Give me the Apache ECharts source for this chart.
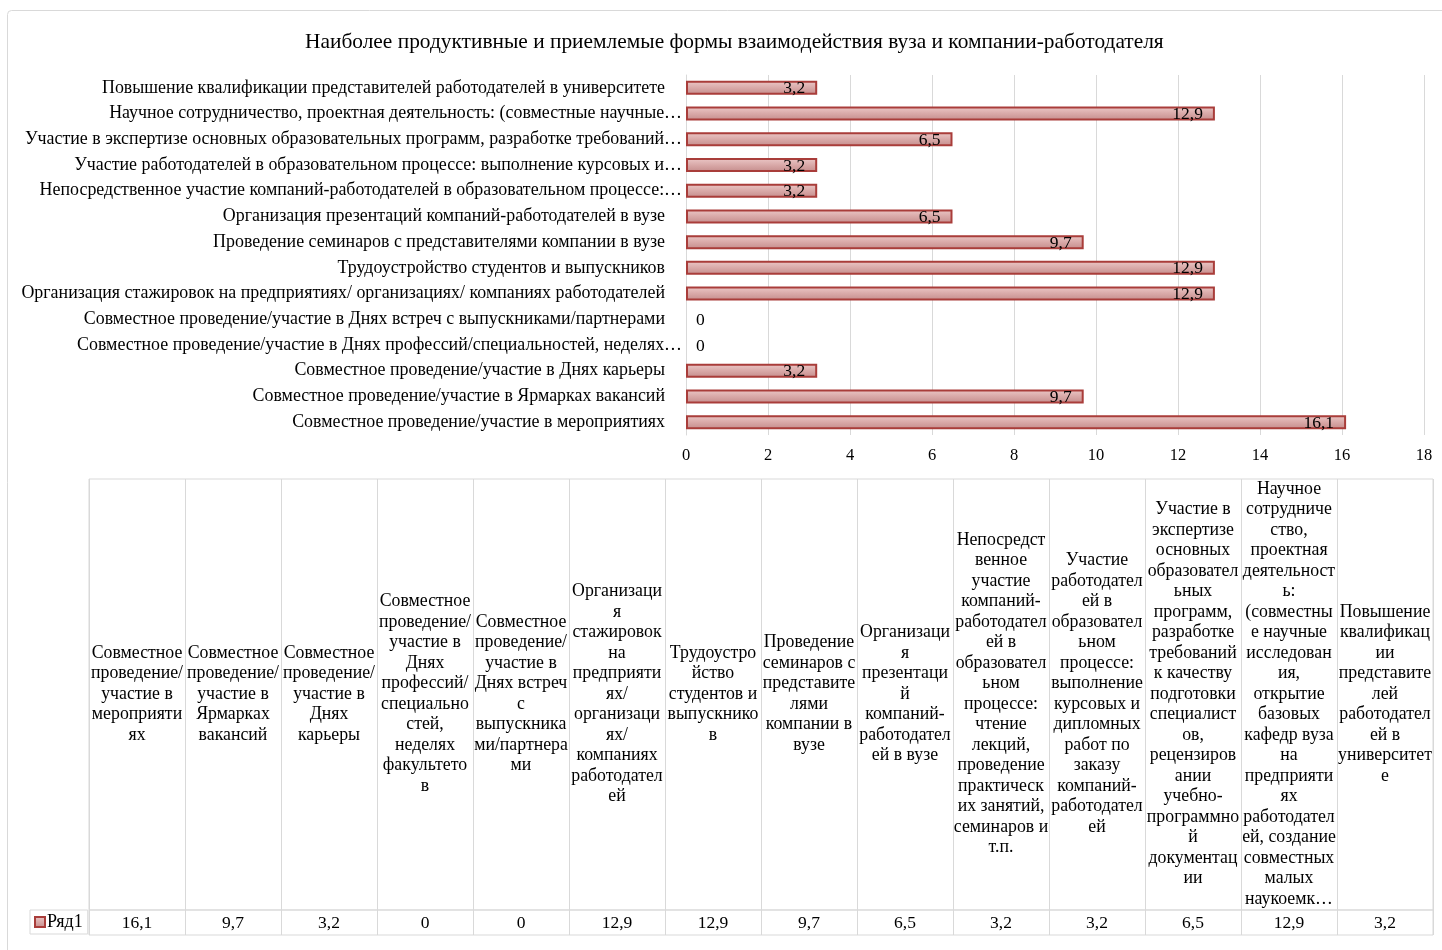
<!DOCTYPE html>
<html>
<head>
<meta charset="utf-8">
<script src="https://cdn.jsdelivr.net/npm/echarts@6/dist/echarts.min.js"></script>
<style>
  html, body { margin: 0; padding: 0; background: #fff; }
  #chart { width: 1442px; height: 950px; }
</style>
</head>
<body>
<div id="chart"></div>
<script>
// ---- data (bottom-to-top order on the bar axis, left-to-right in the table) ----
const seriesName = 'Ряд1';
const categories = [
  'Совместное проведение/участие в мероприятиях',
  'Совместное проведение/участие в Ярмарках вакансий',
  'Совместное проведение/участие в Днях карьеры',
  'Совместное проведение/участие в Днях профессий/специальностей, неделях…',
  'Совместное проведение/участие в Днях встреч с выпускниками/партнерами',
  'Организация стажировок на предприятиях/ организациях/ компаниях работодателей',
  'Трудоустройство студентов и выпускников',
  'Проведение семинаров с представителями компании в вузе',
  'Организация презентаций компаний-работодателей в вузе',
  'Непосредственное участие компаний-работодателей в образовательном процессе:…',
  'Участие работодателей в образовательном процессе: выполнение курсовых и…',
  'Участие в экспертизе основных образовательных программ, разработке требований…',
  'Научное сотрудничество, проектная деятельность: (совместные научные…',
  'Повышение квалификации представителей работодателей в университете'
];
const values = [16.1, 9.7, 3.2, 0, 0, 12.9, 12.9, 9.7, 6.5, 3.2, 3.2, 6.5, 12.9, 3.2];
const tableHeaders = [
  'Совместное\nпроведение/\nучастие в\nмероприяти\nях',
  'Совместное\nпроведение/\nучастие в\nЯрмарках\nвакансий',
  'Совместное\nпроведение/\nучастие в\nДнях\nкарьеры',
  'Совместное\nпроведение/\nучастие в\nДнях\nпрофессий/\nспециально\nстей,\nнеделях\nфакультето\nв',
  'Совместное\nпроведение/\nучастие в\nДнях встреч\nс\nвыпускника\nми/партнера\nми',
  'Организаци\nя\nстажировок\nна\nпредприяти\nях/\nорганизаци\nях/\nкомпаниях\nработодател\nей',
  'Трудоустро\nйство\nстудентов и\nвыпускнико\nв',
  'Проведение\nсеминаров с\nпредставите\nлями\nкомпании в\nвузе',
  'Организаци\nя\nпрезентаци\nй\nкомпаний-\nработодател\nей в вузе',
  'Непосредст\nвенное\nучастие\nкомпаний-\nработодател\nей в\nобразовател\nьном\nпроцессе:\nчтение\nлекций,\nпроведение\nпрактическ\nих занятий,\nсеминаров и\nт.п.',
  'Участие\nработодател\nей в\nобразовател\nьном\nпроцессе:\nвыполнение\nкурсовых и\nдипломных\nработ по\nзаказу\nкомпаний-\nработодател\nей',
  'Участие в\nэкспертизе\nосновных\nобразовател\nьных\nпрограмм,\nразработке\nтребований\nк качеству\nподготовки\nспециалист\nов,\nрецензиров\nании\nучебно-\nпрограммно\nй\nдокументац\nии',
  'Научное\nсотрудниче\nство,\nпроектная\nдеятельност\nь:\n(совместны\nе научные\nисследован\nия,\nоткрытие\nбазовых\nкафедр вуза\nна\nпредприяти\nях\nработодател\nей, создание\nсовместных\nмалых\nнаукоемк…',
  'Повышение\nквалификац\nии\nпредставите\nлей\nработодател\nей в\nуниверситет\nе'
];
const xTicks = { min: 0, max: 18, interval: 2 };
const titleText = 'Наиболее продуктивные и приемлемые формы взаимодействия вуза и компании-работодателя';

// ---- rendering ----
const FONT = "'Liberation Serif', 'Times New Roman', serif";
const fmt = v => String(v).replace('.', ',');
const GRID_LINE = '#d9d9d9';
const barFill = new echarts.graphic.LinearGradient(0, 0, 0, 1, [
  { offset: 0, color: '#ecc9c8' },
  { offset: 0.5, color: '#d9a9a8' },
  { offset: 1, color: '#c48c8b' }
]);
const Y_FONT = 17.9;
// Excel lets the trailing ellipsis of truncated labels hang past the label column
const yAxisData = categories.map(c => c.endsWith('…')
  ? { value: c, textStyle: { padding: [0, -17, 0, 0] } }
  : c);

const chart = echarts.init(document.getElementById('chart'), null, { renderer: 'canvas' });
chart.setOption({
  animation: false,
  backgroundColor: 'transparent',
  textStyle: { fontFamily: FONT, color: '#000' },
  graphic: [{
    type: 'rect', silent: true, z: -10,
    shape: { x: 7.5, y: 10.5, width: 1480, height: 980, r: 4 },
    style: { fill: '#fff', stroke: '#d9d9d9', lineWidth: 1 }
  }],
  title: {
    text: titleText,
    left: 300, top: 27,
    textStyle: { fontFamily: FONT, fontSize: 21.4, fontWeight: 'normal', color: '#000' }
  },
  legend: {
    data: [{ name: seriesName, icon: 'rect' }],
    left: 30, top: 910,
    padding: [3, 5, 3, 4],
    itemWidth: 10, itemHeight: 10, itemGap: 0,
    borderColor: GRID_LINE, borderWidth: 1,
    textStyle: { fontFamily: FONT, fontSize: 18, color: '#000', padding: [0, 0, 0, -3] },
    selectedMode: false
  },
  grid: [
    { left: 686, right: 18, top: 75, height: 360, containLabel: false },
    { left: 89, right: 9, top: 479, height: 431, show: true, borderColor: GRID_LINE, borderWidth: 1, backgroundColor: 'transparent' },
    { left: 89, right: 9, top: 910, height: 25, show: true, borderColor: GRID_LINE, borderWidth: 1, backgroundColor: 'transparent' }
  ],
  xAxis: [
    {
      gridIndex: 0, type: 'value', min: xTicks.min, max: xTicks.max, interval: xTicks.interval,
      axisLine: { show: false }, axisTick: { show: false },
      splitLine: { show: true, lineStyle: { color: GRID_LINE, width: 1 } },
      axisLabel: { fontFamily: FONT, fontSize: 16.5, color: '#000', margin: 12 }
    },
    {
      gridIndex: 1, type: 'category', data: tableHeaders, position: 'top',
      axisLine: { show: false }, axisTick: { show: false },
      splitLine: { show: true, lineStyle: { color: GRID_LINE, width: 1 } },
      axisLabel: {
        inside: true, interval: 0, margin: 215, verticalAlign: 'middle', align: 'center',
        fontFamily: FONT, fontSize: 17.8, lineHeight: 20.5, color: '#000', hideOverlap: false
      }
    },
    {
      gridIndex: 2, type: 'category', data: values.map(fmt), position: 'bottom',
      axisLine: { show: false }, axisTick: { show: false },
      splitLine: { show: true, lineStyle: { color: GRID_LINE, width: 1 } },
      axisLabel: {
        inside: true, interval: 0, margin: 12, verticalAlign: 'middle', align: 'center',
        fontFamily: FONT, fontSize: 17.5, color: '#000'
      }
    }
  ],
  yAxis: [
    {
      gridIndex: 0, type: 'category', data: yAxisData,
      axisLine: { show: true, lineStyle: { color: GRID_LINE } },
      axisTick: { show: false },
      axisLabel: { fontFamily: FONT, fontSize: Y_FONT, color: '#000', margin: 21, interval: 0 }
    },
    { gridIndex: 1, type: 'value', show: false },
    { gridIndex: 2, type: 'value', show: false }
  ],
  series: [{
    name: seriesName,
    type: 'bar',
    xAxisIndex: 0, yAxisIndex: 0,
    barWidth: 14,
    data: values.map(v => v === 0
      ? { value: v, itemStyle: { borderWidth: 0 }, label: { position: 'right', distance: 10 } }
      : { value: v }),
    itemStyle: { color: barFill, borderColor: '#a93d3a', borderWidth: 2 },
    label: {
      show: true, position: 'insideRight', distance: 12, offset: [0, 1],
      fontFamily: FONT, fontSize: 17.5, color: '#000',
      formatter: p => fmt(p.value)
    }
  }]
});
</script>
</body>
</html>
